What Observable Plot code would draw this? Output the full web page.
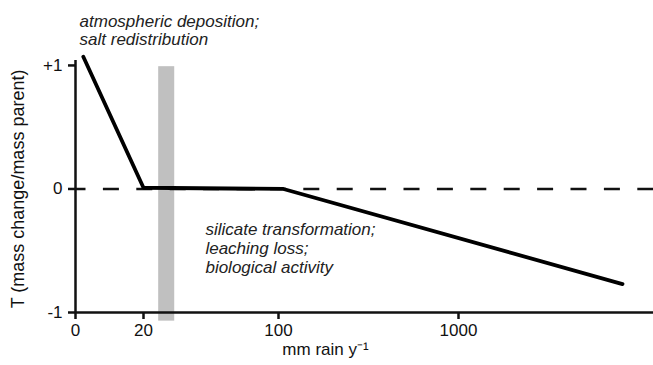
<!DOCTYPE html>
<html>
<head>
<meta charset="utf-8">
<script src="https://cdn.jsdelivr.net/npm/d3@7"></script>
<script src="https://cdn.jsdelivr.net/npm/@observablehq/plot@0.6"></script>
<style>
  html, body { margin: 0; padding: 0; background: #fff; }
  #chart svg { display: block; }
</style>
</head>
<body>
<div id="chart"></div>
<script>
// Mean annual rainfall (mm/yr) and mass transfer coefficient T along the gradient
const rain = [2.3, 20, 125, 9200];
const tau = [1.07, 0.01, 0, -0.77];

// Shaded rainfall band
const bandStart = [29];
const bandEnd = [38.5];

// Axis ticks
const xTicks = [0, 20, 100, 1000];
const yTicks = [-1, 0, 1];
const yTickLabels = ["-1", "0", "+1"];

// Process annotations
const dryNote = {x: 1.2, y: 1.41, text: "atmospheric deposition;\nsalt redistribution"};
const wetNote = {x: 56.7, y: -0.263, text: "silicate transformation;\nleaching loss;\nbiological activity"};

const font = "'Liberation Sans', Arial, Helvetica, sans-serif";
const ink = "#111";

const chart = Plot.plot({
  width: 653,
  height: 365,
  marginTop: 60,
  marginBottom: 53,
  marginLeft: 75,
  marginRight: 0,
  style: {fontFamily: font, fontSize: "17px", color: ink, background: "#fff"},
  x: {
    type: "linear",
    // compressed rainfall axis: separate stretches for 0–20, 20–100 and each decade beyond
    domain: [0, 20, 100, 1000, 10000],
    range: [75, 143, 278, 458, 638],
    axis: null
  },
  y: {domain: [-1, 1.04], axis: null},
  marks: [
    Plot.rectY(bandStart, {
      x1: d => d, x2: (d, i) => bandEnd[i], y1: -1.07, y2: 0.99,
      fill: "#c0c0c0"
    }),
    Plot.ruleY([0], {stroke: ink, strokeWidth: 2.5, strokeDasharray: "16,17.4", strokeDashoffset: 5.5}),
    Plot.ruleY([-1], {stroke: ink, strokeWidth: 2.5}),
    Plot.ruleX([0], {stroke: ink, strokeWidth: 2.5}),
    Plot.axisX(xTicks, {
      anchor: "bottom", y: -1, tickSize: 7, tickPadding: 4, strokeWidth: 2.5,
      stroke: ink, fontSize: 17, tickFormat: d => String(d), label: null
    }),
    Plot.axisY(yTicks, {
      anchor: "left", tickSize: 7, tickPadding: 6, strokeWidth: 2.5,
      stroke: ink, fontSize: 17, tickFormat: d => yTickLabels[yTicks.indexOf(d)], label: null
    }),
    Plot.line(rain.map((r, i) => ({r, t: tau[i]})), {
      x: "r", y: "t", stroke: "#000", strokeWidth: 3.8, strokeLinejoin: "miter"
    }),
    Plot.text([dryNote], {
      x: "x", y: "y", text: "text", lineAnchor: "top", textAnchor: "start",
      lineHeight: 1.05, fontStyle: "italic", fontSize: 17, fill: "#222"
    }),
    Plot.text([wetNote], {
      x: "x", y: "y", text: "text", lineAnchor: "top", textAnchor: "start",
      lineHeight: 1.12, fontStyle: "italic", fontSize: 17, fill: "#222"
    }),
    Plot.text(["mm rain y\u207B\u00B9"], {
      x: 335, y: -1, dy: 42, lineAnchor: "bottom", fontSize: 17, fill: ink
    }),
    Plot.text(["T (mass change/mass parent)"], {
      frameAnchor: "left", y: 0, dx: -57.5, rotate: -90, textAnchor: "middle",
      fontSize: 18, fill: ink
    })
  ]
});

document.getElementById("chart").appendChild(chart);
</script>
</body>
</html>
